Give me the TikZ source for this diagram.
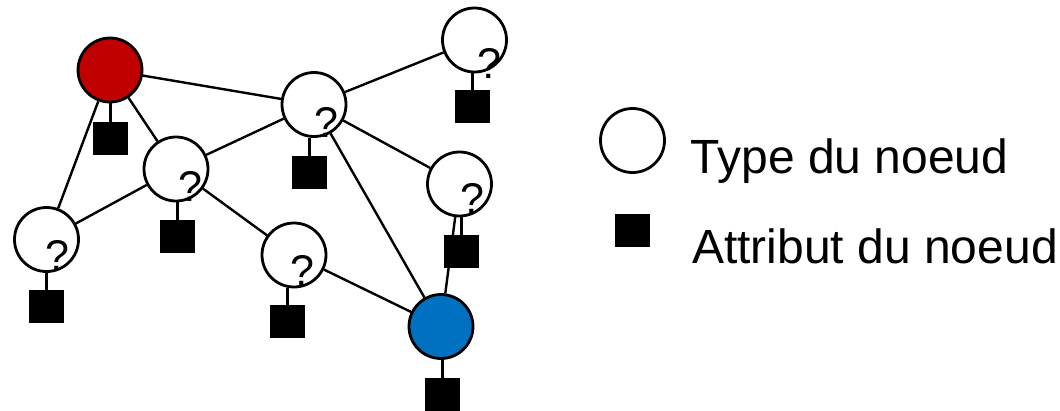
\documentclass[tikz,border=0pt]{standalone}
\usepackage{fontspec}
\setmainfont{Liberation Sans}
\definecolor{nodered}{HTML}{C00000}
\definecolor{nodeblue}{HTML}{0070C0}
\begin{document}
\begin{tikzpicture}[x=1pt,y=-1pt,
  typenode/.style={circle,draw=black,line width=2.8pt,fill=white,inner sep=0pt,minimum size=64pt},
  attrbox/.style={rectangle,fill=black,inner sep=0pt,minimum width=35pt,minimum height=33pt},
  link/.style={line width=2.4pt},
  stem/.style={line width=2.8pt},
  qmark/.style={anchor=base,inner sep=0pt,font=\fontsize{43}{43}\selectfont},
  legend/.style={anchor=base west,inner sep=0pt,font=\fontsize{48}{56}\selectfont}]
\useasboundingbox (0,0) rectangle (1060,410);

% type nodes
\node[typenode,fill=nodered]  (r)   at (110,70) {};
\node[typenode]               (tr)  at (474.5,40) {};
\node[typenode]               (c)   at (314,104.5) {};
\node[typenode]               (m)   at (176,169) {};
\node[typenode]               (e)   at (459.5,184) {};
\node[typenode]               (l)   at (46.5,239.5) {};
\node[typenode]               (s)   at (294,255) {};
\node[typenode,fill=nodeblue] (b)   at (441,326.5) {};

% attribute boxes
\node[attrbox] (ar)  at (110.5,138.5) {};
\node[attrbox] (atr) at (472.5,106.5) {};
\node[attrbox] (ac)  at (309.5,172.5) {};
\node[attrbox] (am)  at (177.5,236.5) {};
\node[attrbox] (ae)  at (461.5,251.5) {};
\node[attrbox] (al)  at (46.5,306.5) {};
\node[attrbox] (as)  at (287.5,321.5) {};
\node[attrbox] (ab)  at (442.5,394.5) {};

% links between nodes
\begin{scope}[on background layer/.style={}]
\draw[link] (r) -- (c);
\draw[link] (r) -- (l);
\draw[link] (r) -- (m);
\draw[link] (c) -- (tr);
\draw[link] (c) -- (m);
\draw[link] (c) -- (e);
\draw[link] (c) -- (b);
\draw[link] (m) -- (l);
\draw[link] (m) -- (s);
\draw[link] (s) -- (b);
\draw[link] (e) -- (b);
\end{scope}

% stems from nodes to their attributes
\draw[stem] (ar.north)  -- (ar.north  |- r.south);
\draw[stem] (atr.north) -- (atr.north |- tr.south);
\draw[stem] (ac.north)  -- (ac.north  |- c.south);
\draw[stem] (am.north)  -- (am.north  |- m.south);
\draw[stem] (ae.north)  -- (ae.north  |- e.south);
\draw[stem] (al.north)  -- (al.north  |- l.south);
\draw[stem] (as.north)  -- (as.north  |- s.south);
\draw[stem] (ab.north)  -- (ab.north  |- b.south);

% unknown types
\node[qmark] (qtr) at (489,78)    {?};
\node[qmark] (qc)  at (326,137)   {?};
\node[qmark] (qm)  at (190,201)   {?};
\node[qmark] (qe)  at (472.5,213) {?};
\node[qmark] (ql)  at (57,270)    {?};
\node[qmark] (qs)  at (302.5,285) {?};

% legend
\node[typenode] (kt) at (632.5,140.5) {};
\node[attrbox]  (ka) at (632.5,230.5) {};
\node[legend] (kttext) at (690.5,173) {Type du noeud};
\node[legend] (katext) at (692,263)   {Attribut du noeud};
\end{tikzpicture}
\end{document}
